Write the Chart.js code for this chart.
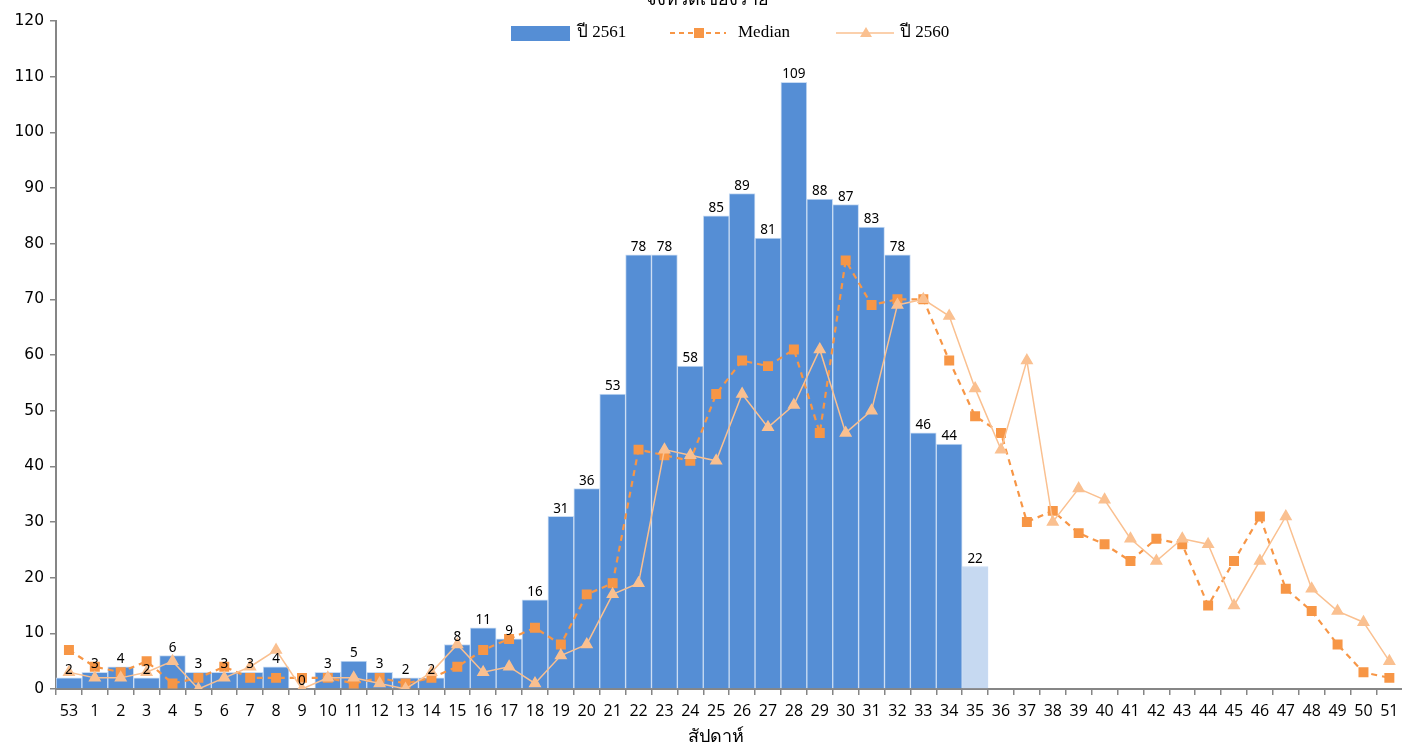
<!DOCTYPE html>
<html>
<head>
<meta charset="utf-8">
<script src="https://cdn.jsdelivr.net/npm/chart.js"></script>
<style>
  html, body { margin: 0; padding: 0; background: #ffffff; overflow: hidden; }
  #wrap { width: 1402px; height: 748px; position: relative; overflow: hidden; }
  canvas { display: block; }
</style>
</head>
<body>
<div id="wrap"><canvas id="c" width="1410" height="748"></canvas></div>
<script>
const weeks = ['53','1','2','3','4','5','6','7','8','9','10','11','12','13','14','15','16','17','18','19','20','21','22','23','24','25','26','27','28','29','30','31','32','33','34','35','36','37','38','39','40','41','42','43','44','45','46','47','48','49','50','51'];
const y2561 = [2,3,4,2,6,3,3,3,4,0,3,5,3,2,2,8,11,9,16,31,36,53,78,78,58,85,89,81,109,88,87,83,78,46,44,22,
  null,null,null,null,null,null,null,null,null,null,null,null,null,null,null,null];
const median = [7,4,3,5,1,2,4,2,2,2,2,1,2,1,2,4,7,9,11,8,17,19,43,42,41,53,59,58,61,46,77,69,70,70,59,49,46,30,32,28,26,23,27,26,15,23,31,18,14,8,3,2];
const y2560 = [3,2,2,3,5,0,2,4,7,0,2,2,1,0,3,8,3,4,1,6,8,17,19,43,42,41,53,47,51,61,46,50,69,70,67,54,43,59,30,36,34,27,23,27,26,15,23,31,18,14,12,5];
const yTicks = [0,10,20,30,40,50,60,70,80,90,100,110,120];
const titleText = 'จังหวัดเชียงราย';
const xTitle = 'สัปดาห์';
const legendLabels = ['ปี 2561', 'Median', 'ปี 2560'];

const BLUE = '#558ED5', LIGHT = '#C6D9F1', ORANGE = '#F79646', PEACH = '#FAC090';

const barColors = y2561.map((v, i) => weeks[i] === '35' ? LIGHT : BLUE);

const labelPlugin = {
  id: 'barLabels',
  afterDatasetsDraw(chart) {
    const ctx = chart.ctx;
    const meta = chart.getDatasetMeta(2);
    ctx.save();
    ctx.font = '13.5px "Noto Sans", "DejaVu Sans", sans-serif';
    ctx.fillStyle = '#000000';
    ctx.textAlign = 'center';
    ctx.textBaseline = 'bottom';
    meta.data.forEach((bar, i) => {
      const v = y2561[i];
      if (v === null || v === undefined) return;
      ctx.fillText(String(v), bar.x, bar.y - 1);
    });
    ctx.restore();
  }
};

const decoPlugin = {
  id: 'deco',
  afterDraw(chart) {
    const ctx = chart.ctx;
    ctx.save();
    ctx.font = '18px "Noto Sans", "DejaVu Sans", sans-serif';
    ctx.fillStyle = '#000000';
    ctx.textAlign = 'center';
    ctx.textBaseline = 'alphabetic';
    ctx.fillText(titleText, 707, 5);
    // x-axis title
    ctx.font = '18px "Noto Sans", "DejaVu Sans", sans-serif';
    ctx.textBaseline = 'middle';
    ctx.fillText(xTitle, 716, 737);
    const ly = 33;
    ctx.fillStyle = BLUE;
    ctx.fillRect(511, 26, 59, 15);
    ctx.font = '17px "Liberation Serif", serif';
    ctx.fillStyle = '#000000';
    ctx.textAlign = 'left';
    ctx.textBaseline = 'middle';
    ctx.fillText(legendLabels[0], 577, ly);
    ctx.strokeStyle = ORANGE;
    ctx.lineWidth = 2;
    ctx.setLineDash([5, 4]);
    ctx.beginPath(); ctx.moveTo(670, ly); ctx.lineTo(726, ly); ctx.stroke();
    ctx.setLineDash([]);
    ctx.fillStyle = ORANGE;
    ctx.fillRect(694, ly - 5, 10, 10);
    ctx.fillStyle = '#000000';
    ctx.fillText(legendLabels[1], 738, ly);
    ctx.strokeStyle = PEACH;
    ctx.lineWidth = 1.5;
    ctx.beginPath(); ctx.moveTo(836, ly); ctx.lineTo(894, ly); ctx.stroke();
    ctx.fillStyle = PEACH;
    ctx.beginPath(); ctx.moveTo(866, ly - 6); ctx.lineTo(872, ly + 4); ctx.lineTo(860, ly + 4); ctx.closePath(); ctx.fill();
    ctx.fillStyle = '#000000';
    ctx.fillText(legendLabels[2], 900, ly);
    ctx.restore();
  }
};

new Chart(document.getElementById('c'), {
  data: {
    labels: weeks,
    datasets: [
      {
        type: 'line', label: legendLabels[2], data: y2560, order: 1,
        borderColor: PEACH, backgroundColor: PEACH, borderWidth: 1.5,
        pointStyle: 'triangle', pointRadius: 6, pointHoverRadius: 6,
        pointBackgroundColor: PEACH, pointBorderColor: PEACH, tension: 0, spanGaps: true
      },
      {
        type: 'line', label: legendLabels[1], data: median, order: 2,
        borderColor: ORANGE, backgroundColor: ORANGE, borderWidth: 2.2, borderDash: [6, 5],
        pointStyle: 'rect', pointRadius: 5.5, pointHoverRadius: 5.5,
        pointBackgroundColor: ORANGE, pointBorderColor: ORANGE, tension: 0
      },
      {
        type: 'bar', label: legendLabels[0], data: y2561, order: 3,
        backgroundColor: barColors, borderColor: '#C9DCF3', borderWidth: 1,
        barPercentage: 1.0, categoryPercentage: 1.0
      }
    ]
  },
  options: {
    responsive: false,
    animation: false,
    layout: { padding: { top: 21, right: 0, left: 0, bottom: 0 } },
    plugins: { legend: { display: false }, tooltip: { enabled: false }, title: { display: false } },
    scales: {
      x: {
        type: 'category', offset: true,
        afterFit(scale) { scale.height = 59; },
        grid: { display: true, drawOnChartArea: false, offset: true, tickLength: 6, color: '#868686', lineWidth: 1.5 },
        border: { display: true, color: '#868686', width: 2 },
        ticks: { color: '#000000', font: { family: '"Open Sans", "Noto Sans", sans-serif', size: 16 }, padding: 7, maxRotation: 0, autoSkip: false },
        title: { display: false }
      },
      y: {
        min: 0, max: 120,
        afterBuildTicks(scale) { scale.ticks = yTicks.map(v => ({ value: v })); },
        afterFit(scale) { scale.width = 56; },
        grid: { display: true, drawOnChartArea: false, tickLength: 6, color: '#868686', lineWidth: 1.5 },
        border: { display: true, color: '#868686', width: 2 },
        ticks: { color: '#000000', font: { family: '"DejaVu Sans", sans-serif', size: 15.5 }, padding: 6 }
      }
    }
  },
  plugins: [labelPlugin, decoPlugin]
});
</script>
</body>
</html>
